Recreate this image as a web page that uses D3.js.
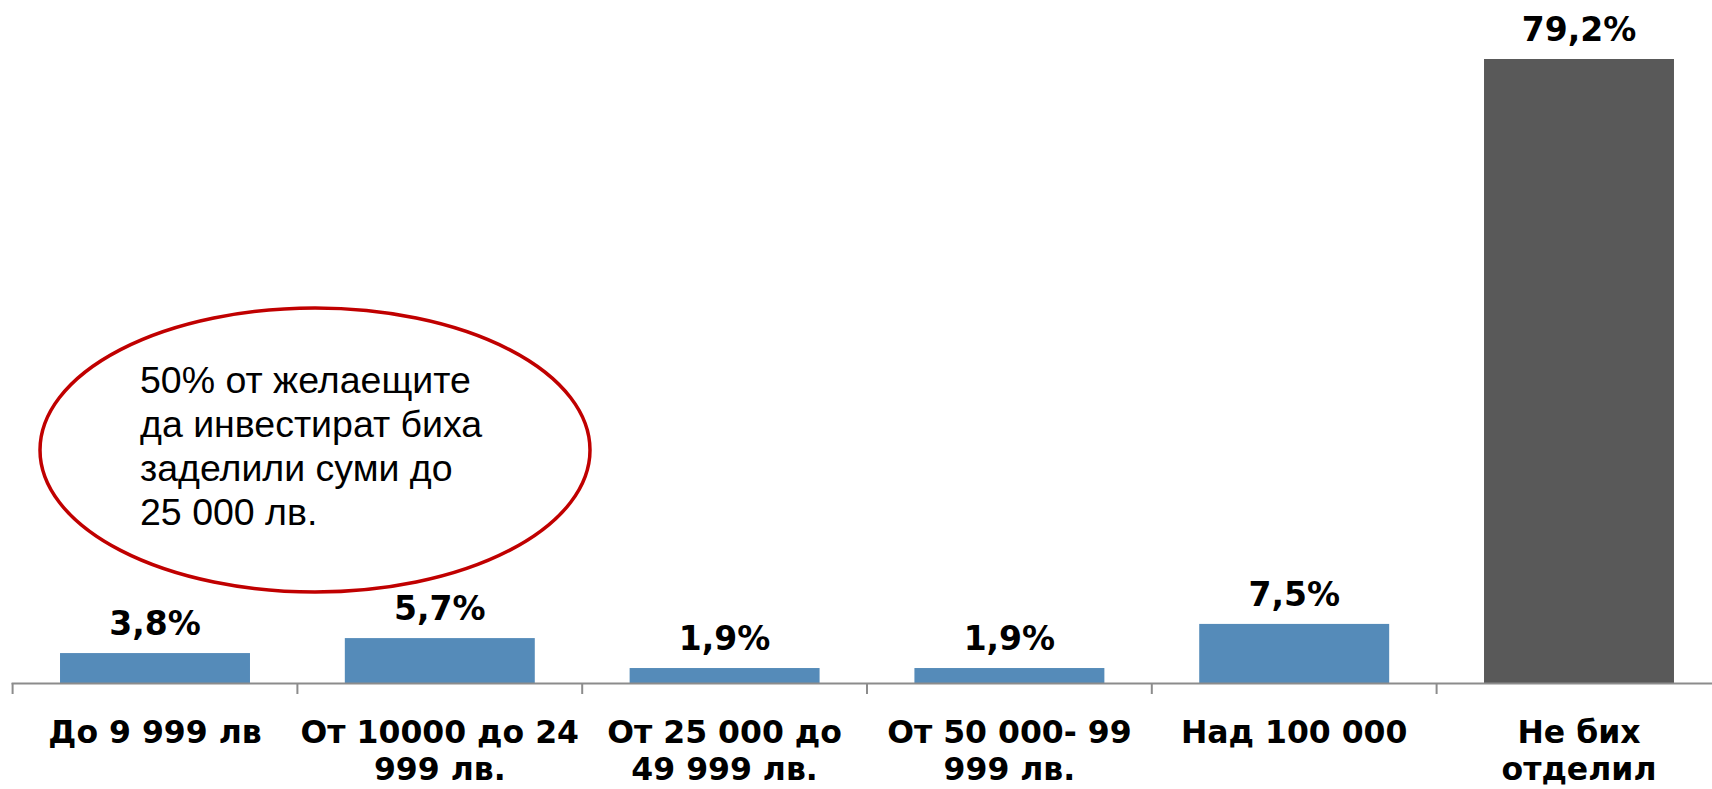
<!DOCTYPE html>
<html><head><meta charset="utf-8">
<script src="https://cdn.jsdelivr.net/npm/d3@7/dist/d3.min.js"></script>
<style>html,body{margin:0;padding:0;background:#fff;}svg{display:block;}</style>
</head><body>
<svg id="chart" width="1712" height="789"></svg>
<script>
const categories = [
  ["До 9 999 лв"],
  ["От 10000 до 24", "999 лв."],
  ["От 25 000 до", "49 999 лв."],
  ["От 50 000- 99", "999 лв."],
  ["Над 100 000"],
  ["Не бих", "отделил"]
];
const values = [3.8, 5.7, 1.9, 1.9, 7.5, 79.2];
const valueLabels = ["3,8%", "5,7%", "1,9%", "1,9%", "7,5%", "79,2%"];
const barColors = ["#558BB9", "#558BB9", "#558BB9", "#558BB9", "#558BB9", "#595959"];
const noteLines = ["50% от желаещите", "да инвестират биха", "заделили суми до", "25 000 лв."];

const svg = d3.select("#chart");
const x0 = 12.6, step = 284.8;
const x = d3.scaleBand().domain(d3.range(values.length))
  .range([x0, x0 + step * values.length]).paddingInner(0.333).paddingOuter(0.1665);
const y = d3.scaleLinear().domain([0, 79.2]).range([683, 59]);

// bars
svg.selectAll("rect.bar").data(values).join("rect")
  .attr("class", "bar")
  .attr("x", (d, i) => x(i))
  .attr("width", x.bandwidth())
  .attr("y", d => y(d))
  .attr("height", d => y(0) - y(d))
  .attr("fill", (d, i) => barColors[i]);

// axis line and ticks
const axisColor = "#8c8c8c";
svg.append("line").attr("x1", x0 - 1).attr("x2", 1712).attr("y1", y(0) + 0.5).attr("y2", y(0) + 0.5)
  .attr("stroke", axisColor).attr("stroke-width", 2);
svg.selectAll("line.tick").data(d3.range(values.length)).join("line")
  .attr("class", "tick")
  .attr("x1", i => x0 + step * i).attr("x2", i => x0 + step * i)
  .attr("y1", y(0)).attr("y2", y(0) + 11)
  .attr("stroke", axisColor).attr("stroke-width", 2);

// value labels
svg.selectAll("text.val").data(values).join("text")
  .attr("class", "val")
  .attr("x", (d, i) => x(i) + x.bandwidth() / 2)
  .attr("y", d => y(d) - 18)
  .attr("text-anchor", "middle")
  .attr("font-family", "DejaVu Sans")
  .attr("font-weight", "bold")
  .attr("font-size", 33)
  .attr("fill", "#000")
  .text((d, i) => valueLabels[i]);

// category labels
const cat = svg.selectAll("text.cat").data(categories).join("text")
  .attr("class", "cat")
  .attr("text-anchor", "middle")
  .attr("font-family", "DejaVu Sans")
  .attr("font-weight", "bold")
  .attr("font-size", 31.5)
  .attr("fill", "#000");
cat.selectAll("tspan").data((d, i) => d.map(t => ({t, i}))).join("tspan")
  .attr("x", d => x(d.i) + x.bandwidth() / 2)
  .attr("y", (d, j) => 743 + j * 37)
  .text(d => d.t);

// annotation ellipse
svg.append("ellipse").attr("cx", 315).attr("cy", 450).attr("rx", 275).attr("ry", 142)
  .attr("fill", "none").attr("stroke", "#C00000").attr("stroke-width", 3.5);
svg.append("text")
  .attr("font-family", "Liberation Sans, Arial, sans-serif")
  .attr("font-size", 37.5)
  .attr("fill", "#000")
  .selectAll("tspan").data(noteLines).join("tspan")
  .attr("x", 140)
  .attr("y", (d, i) => 393 + i * 44)
  .text(d => d);
</script>
</body></html>
